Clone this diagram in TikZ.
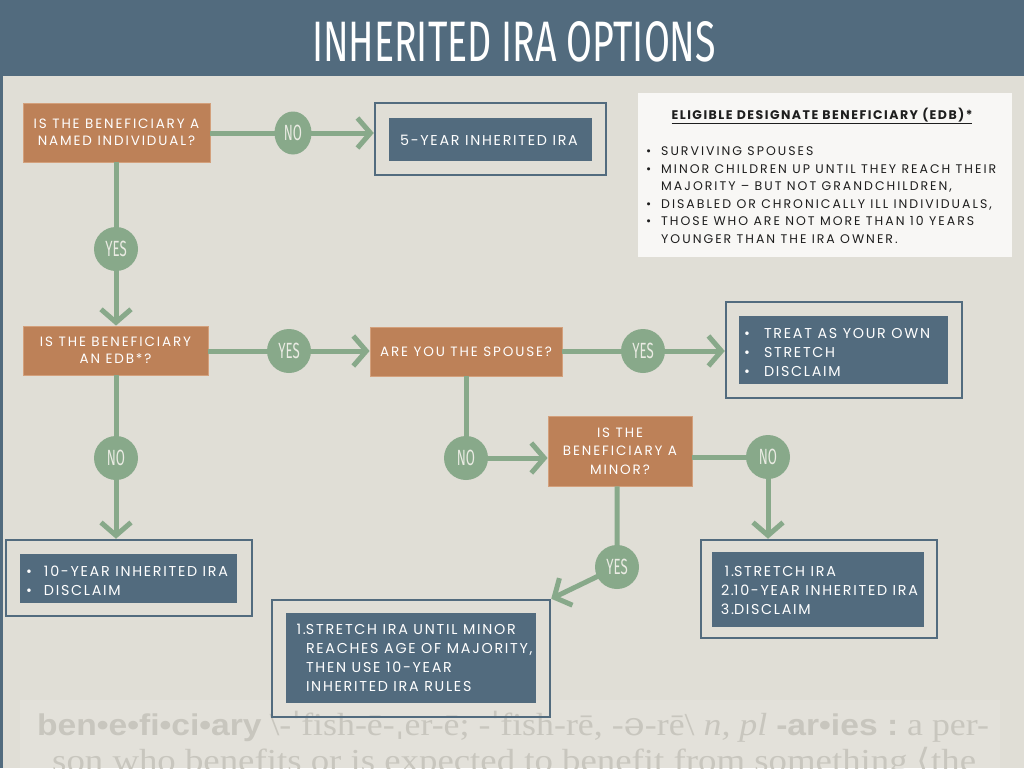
\documentclass[tikz,border=0pt]{standalone}
\usepackage{fontspec}
\usepackage{graphicx}
\usetikzlibrary{arrows.meta,shapes.geometric}
\setmainfont{Poppins}
\newfontfamily\boxf[LetterSpace=12]{Poppins}
\newfontfamily\qf[LetterSpace=14]{Poppins}
\newfontfamily\edbf[LetterSpace=16]{Poppins}
\newfontfamily\edbtf[LetterSpace=12]{Poppins}
\newfontfamily\condf{Fira Sans}
\newfontfamily\dsans{Liberation Sans}
\newfontfamily\dserif{Liberation Serif}
\newfontfamily\ipaf{DejaVu Serif}
\newfontfamily\angf{DejaVu Sans}
\definecolor{hdr}{HTML}{526B7E}
\definecolor{bgc}{HTML}{E0DED6}
\definecolor{band}{HTML}{E3E1DA}
\definecolor{org}{HTML}{BD8158}
\definecolor{orgedge}{HTML}{D3A07C}
\definecolor{grn}{HTML}{88A98A}
\definecolor{wbox}{HTML}{F8F7F5}
\definecolor{dictc}{HTML}{C8C6BE}
\definecolor{lbl}{HTML}{EAEBE3}
\definecolor{ink}{HTML}{1E1E1E}
\newcommand\bul[1]{\makebox[#1][l]{\textbullet}}
\newcommand\ind[1]{\hspace*{#1}}
\newcommand\lbltext[1]{\scalebox{0.6}[1]{\condf\fontsize{22}{22}\selectfont #1}}
\begin{document}
\begin{tikzpicture}[x=1pt,y=-1pt,
  qbox/.style={fill=org, draw=orgedge, line width=0.8pt, text=white, align=center, inner sep=0pt,
    font=\qf\fontsize{13.5}{17.5}\selectfont},
  frame/.style={draw=hdr, line width=2.5pt, inner sep=0pt},
  ibox/.style={fill=hdr, inner sep=0pt},
  itext/.style={text=white, align=left, inner sep=0pt, font=\boxf\fontsize{14.3}{19}\selectfont},
  lab/.style={ellipse, fill=grn, inner sep=0pt, text=lbl, minimum width=44pt, minimum height=44pt},
  conn/.style={draw=grn, line width=5pt, -{Straight Barb[length=13pt,width=30pt]}},
  dict/.style={text=dictc, inner sep=0pt, anchor=base west}
]
\useasboundingbox (0,0) rectangle (1024,768);
\clip (0,0) rectangle (1024,768);
\fill[bgc] (0,0) rectangle (1024,768);
\fill[band] (20,700) rectangle (1000,768);
\fill[hdr] (0,0) rectangle (1024,76);
\fill[hdr] (0,76) rectangle (2.5,768);

% dictionary background text
\node[dict] (d1) at (37,735) {\scalebox{1.12}[1]{{\dsans\bfseries\fontsize{30}{30}\selectfont ben•e•fi•ci•ary}\hspace{7pt}{\dserif\fontsize{32}{32}\selectfont \textbackslash-{\ipaf ˈ}fish-ē-{\ipaf ˌ}er-ē; -{\ipaf ˈ}fish-rē, -{\ipaf ə}-rē\textbackslash\ \textit{n, pl} }{\dsans\bfseries\fontsize{30}{30}\selectfont -ar•ies :}{\dserif\fontsize{32}{32}\selectfont\ a per-}}};
\node[dict] (d2) at (52,771) {\scalebox{1.15}[1]{\dserif\fontsize{32}{32}\selectfont son who benefits or is expected to benefit from something {\angf ⟨}the}};

% title
\node[text=white, inner sep=0pt] (title) at (514,42) {\resizebox{404pt}{40pt}{\condf INHERITED IRA OPTIONS}};

% EDB box
\node[fill=wbox, minimum width=374pt, minimum height=164pt, inner sep=0pt] (edb) at (825,175) {};
\node[text=ink, inner sep=0pt, font=\edbtf\fontsize{12.5}{17.5}\selectfont] (edbt) at (822,116) {\bfseries\underline{ELIGIBLE DESIGNATE BENEFICIARY (EDB)*}};
\node[text=ink, inner sep=0pt, align=left, anchor=north west, font=\edbf\fontsize{12.5}{17.5}\selectfont] (edbl) at (646,146.5) {\bul{15pt}SURVIVING SPOUSES\\
\bul{15pt}MINOR CHILDREN UP UNTIL THEY REACH THEIR\\
\ind{15pt}MAJORITY – BUT NOT GRANDCHILDREN,\\
\bul{15pt}DISABLED OR CHRONICALLY ILL INDIVIDUALS,\\
\bul{15pt}THOSE WHO ARE NOT MORE THAN 10 YEARS\\
\ind{15pt}YOUNGER THAN THE IRA OWNER.};

% question boxes
\node[qbox, minimum width=187pt, minimum height=59pt] (q1) at (116.5,132.5) {IS THE BENEFICIARY A\\NAMED INDIVIDUAL?};
\node[qbox, minimum width=185pt, minimum height=49pt] (q2) at (115.5,350.5) {IS THE BENEFICIARY\\AN EDB*?};
\node[qbox, minimum width=192pt, minimum height=49pt] (q3) at (466,351.5) {ARE YOU THE SPOUSE?};
\node[qbox, minimum width=144pt, minimum height=70pt, font=\qf\fontsize{13.5}{18.5}\selectfont] (q4) at (620,451) {IS THE\\BENEFICIARY A\\MINOR?};

% result frames
\node[frame, minimum width=231pt, minimum height=72pt] (f1) at (490.5,139) {};
\node[ibox, minimum width=203pt, minimum height=43pt] (i1) at (490.5,139.5) {};
\node[itext] (t1) at (489,140.5) {5-YEAR INHERITED IRA};

\node[frame, minimum width=246pt, minimum height=76pt] (f2) at (129,578) {};
\node[ibox, minimum width=217pt, minimum height=49pt] (i2) at (128.5,578.5) {};
\node[itext, anchor=west] (t2) at ([xshift=6pt,yshift=-2pt]i2.west) {\bul{18pt}10-YEAR INHERITED IRA\\\bul{18pt}DISCLAIM};

\node[frame, minimum width=236pt, minimum height=96pt] (f3) at (844,350) {};
\node[ibox, minimum width=209pt, minimum height=68pt] (i3) at (843.5,350) {};
\node[itext, anchor=west] (t3) at ([xshift=5pt,yshift=-2.5pt]i3.west) {\bul{20pt}TREAT AS YOUR OWN\\\bul{20pt}STRETCH\\\bul{20pt}DISCLAIM};

\node[frame, minimum width=236pt, minimum height=98pt] (f4) at (819,589) {};
\node[ibox, minimum width=212pt, minimum height=75pt] (i4) at (818,589.5) {};
\node[itext, anchor=west] (t4) at ([xshift=8pt,yshift=-1pt]i4.west) {\makebox[14pt][r]{1.}STRETCH IRA\\\makebox[14pt][r]{2.}10-YEAR INHERITED IRA\\\makebox[14pt][r]{3.}DISCLAIM};

\node[frame, minimum width=278pt, minimum height=117pt] (f5) at (411,658.5) {};
\node[ibox, minimum width=250pt, minimum height=90pt] (i5) at (411,658) {};
\node[itext, anchor=west] (t5) at ([xshift=8pt]i5.west) {\makebox[12pt][r]{1.}STRETCH IRA UNTIL MINOR\\\ind{12pt}REACHES AGE OF MAJORITY,\\\ind{12pt}THEN USE 10-YEAR\\\ind{12pt}INHERITED IRA RULES};

% label positions
\coordinate (cno1) at (293,133);
\coordinate (cyes1) at (116,249);
\coordinate (cyes2) at (289,351);
\coordinate (cyes3) at (643,351);
\coordinate (cno2) at (116,458);
\coordinate (cno3) at (466,458);
\coordinate (cno4) at (768,457);
\coordinate (cyes4) at (617,567);

% connectors
\draw[conn] (q1.east |- cno1) -- (cno1 -| f1.west);
\draw[conn] (cyes1 |- q1.south) -- (cyes1 |- q2.north);
\draw[conn] (q2.east |- cyes2) -- (cyes2 -| q3.west);
\draw[conn] (q3.east |- cyes3) -- (cyes3 -| f3.west);
\draw[conn] (cno2 |- q2.south) -- (cno2 |- f2.north);
\draw[conn] (cno3 |- q3.south) -- (cno3) -- (cno3 -| q4.west);
\draw[conn] (q4.east |- cno4) -- (cno4) -- (cno4 |- f4.north);
\draw[conn] (cyes4 |- q4.south) -- (cyes4) -- (f5.north east);

% labels
\node[lab, minimum width=37pt, minimum height=43pt] (no1) at (cno1) {\lbltext{NO}};
\node[lab] (yes1) at (cyes1) {\lbltext{YES}};
\node[lab] (yes2) at (cyes2) {\lbltext{YES}};
\node[lab] (yes3) at (cyes3) {\lbltext{YES}};
\node[lab] (no2) at (cno2) {\lbltext{NO}};
\node[lab] (no3) at (cno3) {\lbltext{NO}};
\node[lab] (no4) at (cno4) {\lbltext{NO}};
\node[lab] (yes4) at (cyes4) {\lbltext{YES}};
\end{tikzpicture}
\end{document}
